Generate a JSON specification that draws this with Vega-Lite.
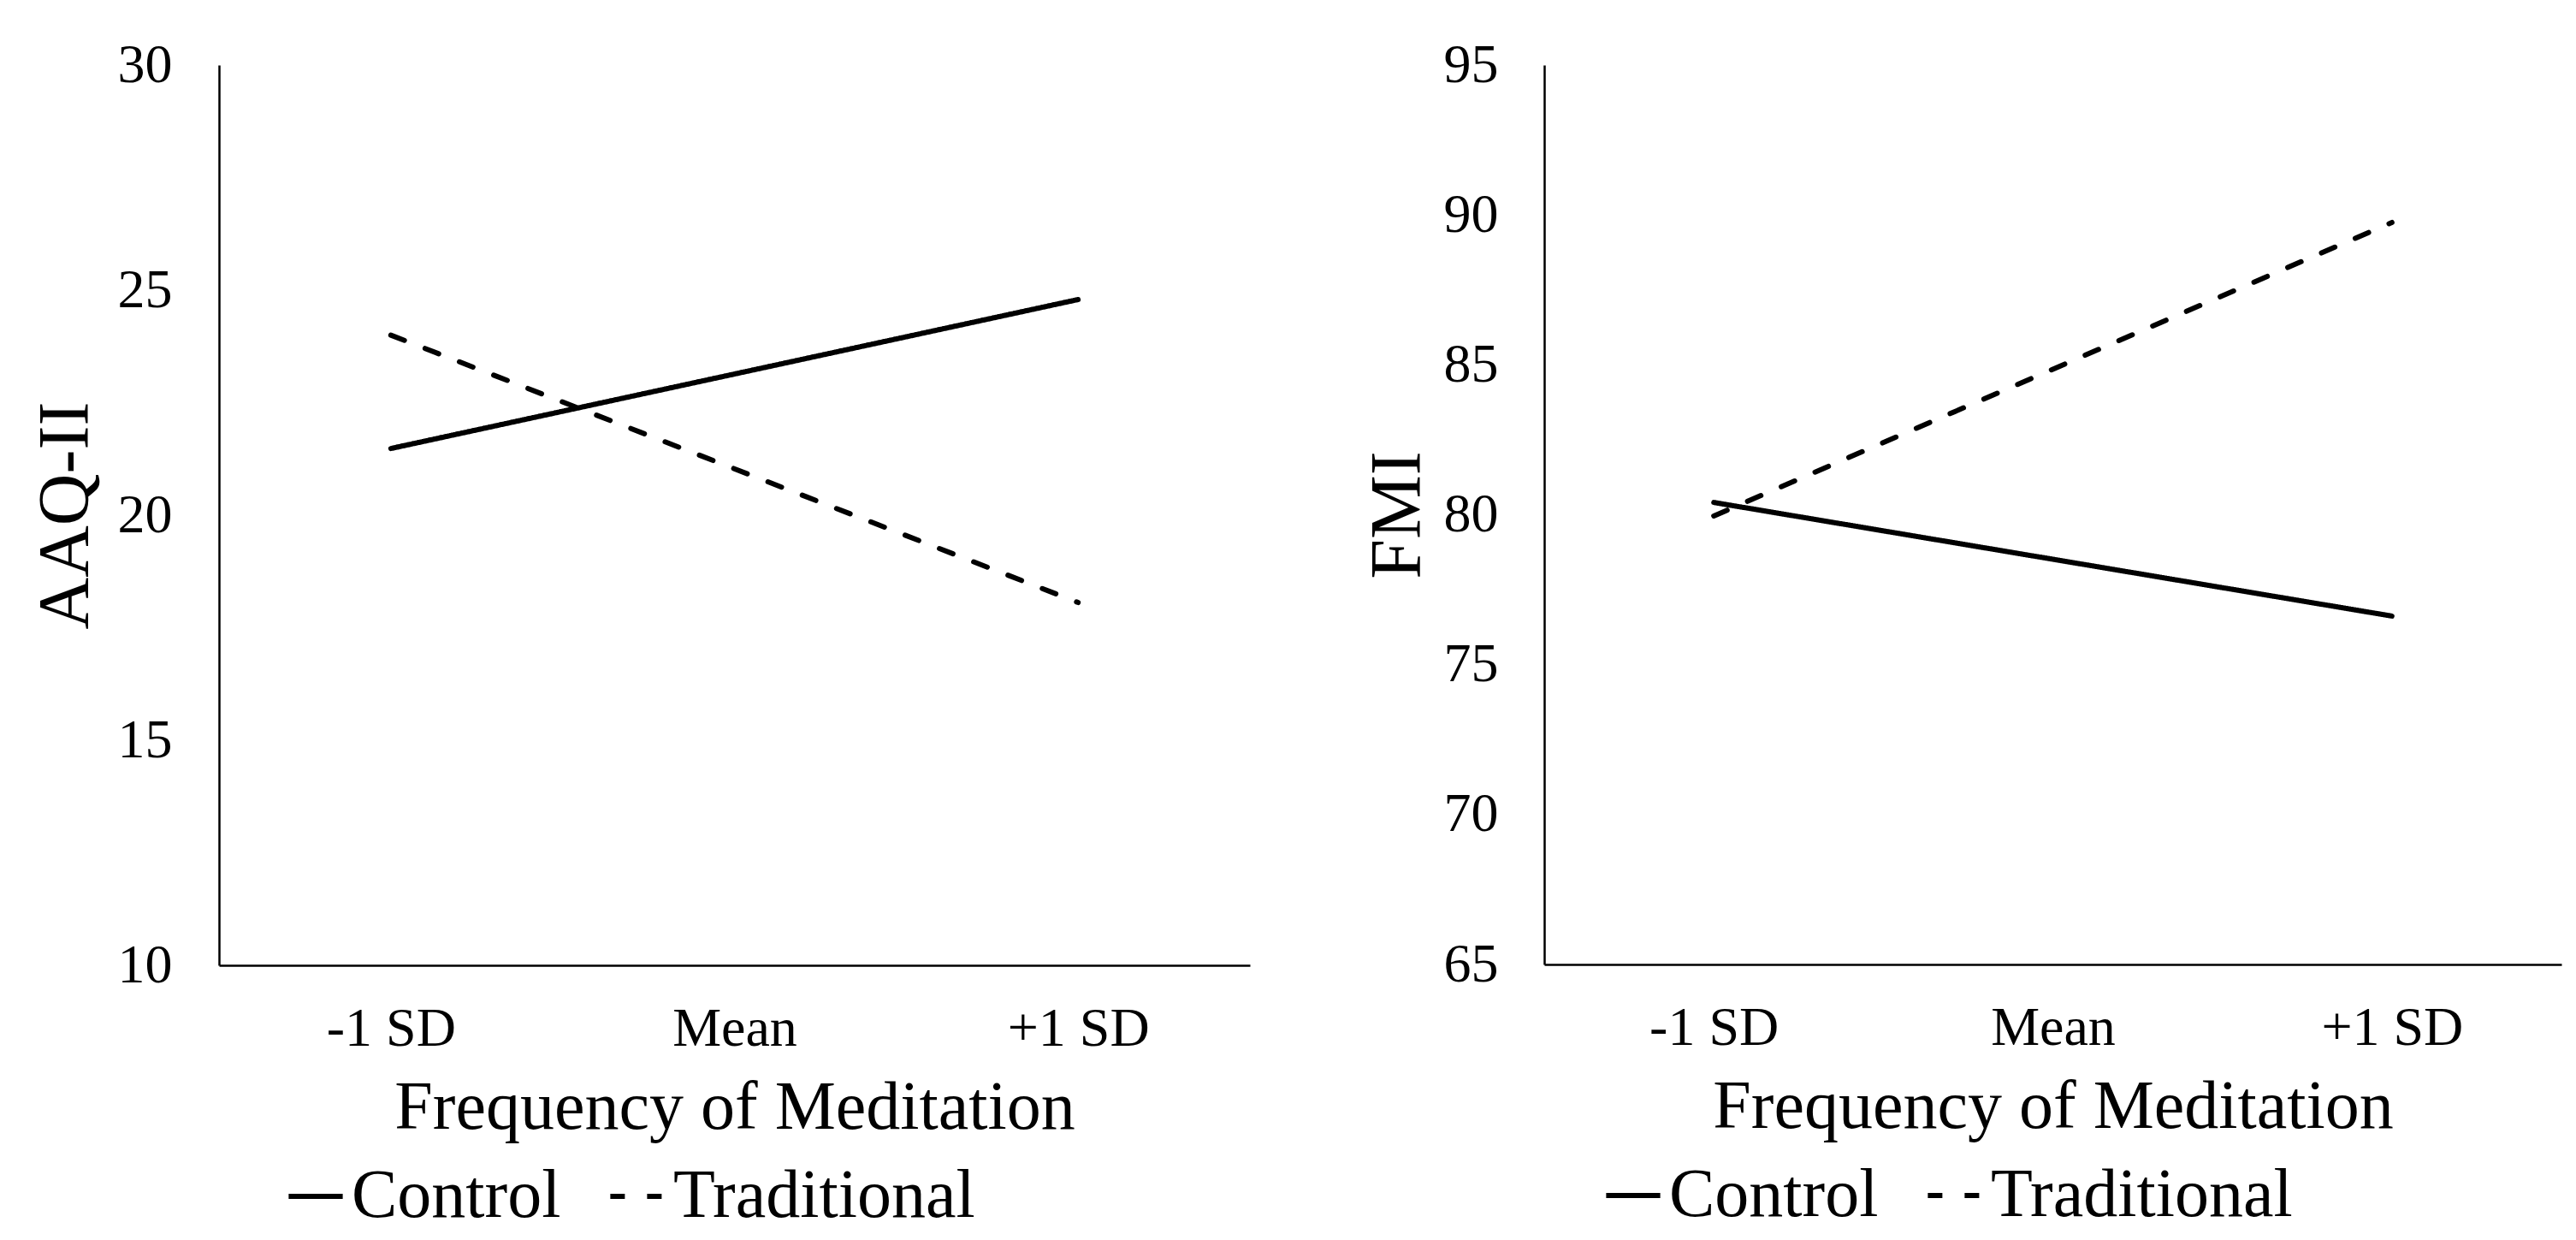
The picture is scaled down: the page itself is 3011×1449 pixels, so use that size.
{
  "$schema": "https://vega.github.io/schema/vega-lite/v6.json",
  "background": "white",
  "padding": {"left": 35, "top": 44, "right": 10, "bottom": 0},
  "datasets": {
    "pts": [
      {"measure": "AAQ-II", "level": "-1 SD", "group": "Control", "value": 21.48},
      {"measure": "AAQ-II", "level": "+1 SD", "group": "Control", "value": 24.79},
      {"measure": "AAQ-II", "level": "-1 SD", "group": "Traditional", "value": 24.0},
      {"measure": "AAQ-II", "level": "+1 SD", "group": "Traditional", "value": 18.06},
      {"measure": "FMI", "level": "-1 SD", "group": "Control", "value": 80.41},
      {"measure": "FMI", "level": "+1 SD", "group": "Control", "value": 76.62},
      {"measure": "FMI", "level": "-1 SD", "group": "Traditional", "value": 79.96},
      {"measure": "FMI", "level": "+1 SD", "group": "Traditional", "value": 89.75}
    ]
  },
  "hconcat": [
    {
      "width": 1205,
      "height": 1052,
      "data": {"name": "pts"},
      "transform": [{"filter": "datum.measure === 'AAQ-II'"}],
      "mark": {"type": "line", "strokeWidth": 6, "strokeCap": "round", "color": "black"},
      "encoding": {
        "x": {
          "field": "level", "type": "ordinal",
          "scale": {"type": "point", "domain": ["-1 SD", "Mean", "+1 SD"], "padding": 0.5},
          "axis": {"title": "Frequency of Meditation", "labelAngle": 0, "labelPadding": 42, "titlePadding": 21}
        },
        "y": {
          "field": "value", "type": "quantitative",
          "scale": {"domain": [10, 30], "nice": false, "zero": false},
          "axis": {"title": "AAQ-II", "values": [10, 15, 20, 25, 30], "labelPadding": 55, "titlePadding": 17, "titleFontSize": 84}
        },
        "strokeDash": {
          "field": "group", "type": "nominal",
          "scale": {"domain": ["Control", "Traditional"], "range": [[1, 0], [17, 26]]},
          "legend": {"orient": "none", "legendX": 73, "legendY": 1282, "direction": "horizontal"}
        },
        "detail": {"field": "group"}
      }
    },
    {
      "width": 1189,
      "height": 1051,
      "data": {"name": "pts"},
      "transform": [{"filter": "datum.measure === 'FMI'"}],
      "mark": {"type": "line", "strokeWidth": 6, "strokeCap": "round", "color": "black"},
      "encoding": {
        "x": {
          "field": "level", "type": "ordinal",
          "scale": {"type": "point", "domain": ["-1 SD", "Mean", "+1 SD"], "padding": 0.5},
          "axis": {"title": "Frequency of Meditation", "labelAngle": 0, "labelPadding": 42, "titlePadding": 21}
        },
        "y": {
          "field": "value", "type": "quantitative",
          "scale": {"domain": [65, 95], "nice": false, "zero": false},
          "axis": {"title": "FMI", "values": [65, 70, 75, 80, 85, 90, 95], "labelPadding": 54, "titlePadding": 10, "titleFontSize": 84}
        },
        "strokeDash": {
          "field": "group", "type": "nominal",
          "scale": {"domain": ["Control", "Traditional"], "range": [[1, 0], [17, 26]]},
          "legend": {"orient": "none", "legendX": 64, "legendY": 1281, "direction": "horizontal"}
        },
        "detail": {"field": "group"}
      }
    }
  ],
  "spacing": 131,
  "resolve": {"scale": {"y": "independent", "x": "independent", "strokeDash": "independent"}, "legend": {"strokeDash": "independent"}},
  "config": {
    "view": {"stroke": null},
    "font": "Liberation Serif",
    "axis": {
      "domainColor": "black", "domainWidth": 2.5, "ticks": false, "grid": false,
      "labelFont": "Liberation Serif", "labelFontSize": 64, "labelColor": "black",
      "titleFont": "Liberation Serif", "titleFontSize": 80, "titleColor": "black", "titleFontWeight": "normal"
    },
    "legend": {
      "title": null, "labelFont": "Liberation Serif", "labelFontSize": 80, "labelColor": "black", "labelLimit": 0,
      "symbolType": "stroke", "symbolSize": 4000, "symbolStrokeWidth": 6, "symbolStrokeColor": "black",
      "labelOffset": 2, "columnPadding": 45, "padding": 0
    }
  }
}
